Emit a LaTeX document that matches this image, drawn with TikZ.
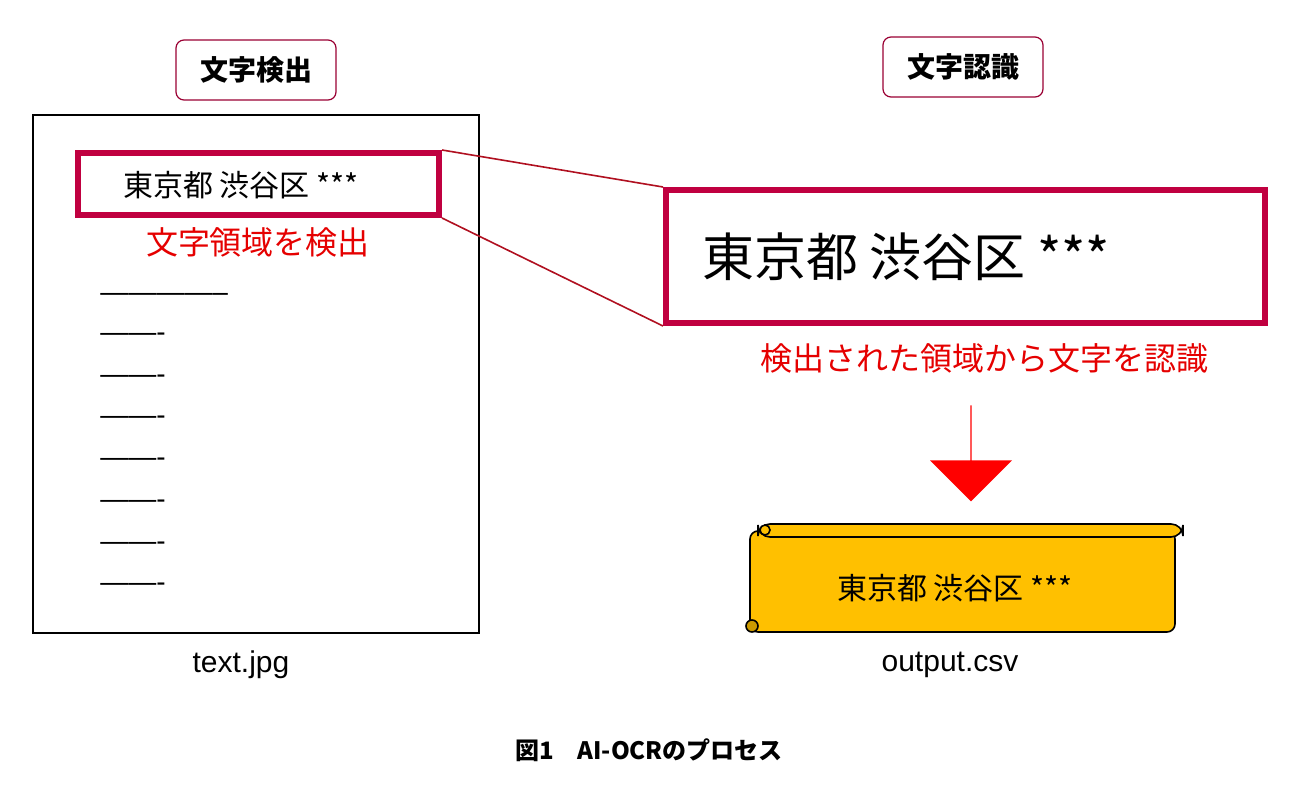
\documentclass[tikz,border=0pt]{standalone}
\usepackage{fontspec}
\setmainfont{Liberation Sans}
\newfontfamily\jp{Noto Sans CJK JP}
\usetikzlibrary{shapes.arrows}
\definecolor{boxred}{HTML}{C00040}
\definecolor{linered}{HTML}{B01020}
\definecolor{scrollgold}{HTML}{FFC000}
\begin{document}
\begin{tikzpicture}[x=0.5pt,y=-0.5pt,
        headbox/.style={
            draw=boxred!80!black, rounded corners=4pt, line width=0.6pt,
            minimum width=80pt, minimum height=30pt, % heading tags
            font=\jp\bfseries\fontsize{14}{14}\selectfont
        },
        regionbox/.style={
            draw=boxred, line width=3pt, anchor=north west, inner sep=0pt
        },
        redlabel/.style={
            text=red!90!black, font=\jp\fontsize{16}{16}\selectfont
        },
        dashline/.style={
            anchor=west, font=\fontsize{14}{14}\selectfont, inner sep=0pt
        }
    ]
\useasboundingbox (0,0) rectangle (1298,788);

% Left side: document with detected region
\node[headbox] (detecthead) at (256,70) {文字検出};
\draw[line width=0.7pt] (33,115) rectangle (479,633);
\node[regionbox, minimum width=180.5pt, minimum height=31pt] (smallbox) at (75,150) {};
\node[font=\jp\fontsize{15}{15}\selectfont] (smalltext) at (241,185) {東京都 渋谷区 ***};
\node[redlabel] (detectlabel) at (258,242) {文字領域を検出};
\node[dashline] (dash0) at (100,297) {--------------};
\foreach \y [count=\i] in {337,379,420,462,504,546,587}
    \node[dashline] (dash\i) at (100,\y) {-------};
\node[font=\fontsize{15}{15}\selectfont] (jpgname) at (241,665) {text.jpg};

% Right side: recognised region
\node[headbox] (recoghead) at (963,67) {文字認識};
\node[regionbox, minimum width=299.5pt, minimum height=66.5pt] (bigbox) at (663,187) {};
\node[font=\jp\fontsize{26}{26}\selectfont, anchor=west] (bigtext) at (695,257) {東京都 渋谷区 ***};
\draw[linered, line width=0.8pt] (smallbox.north east) -- (bigbox.north west);
\draw[linered, line width=0.8pt] (smallbox.south east) -- (bigbox.south west);
\node[redlabel] (recoglabel) at (984,358) {検出された領域から文字を認識};
\node[single arrow, fill=red, draw=none, shape border rotate=270,
      minimum width=41pt, single arrow head extend=11pt, minimum height=48pt,
      inner sep=0pt] (downarrow) at (971,453) {};

% Scroll with the output
\draw[fill=scrollgold, line width=0.8pt, rounded corners=4pt] (750,531) rectangle (1175,632);
\draw[fill=scrollgold, line width=0.8pt, rounded corners=6pt] (758,524) rectangle (1183,537);
\draw[fill=scrollgold, line width=0.8pt] (765,530) circle (5);
\draw[fill=scrollgold!80!black, line width=0.8pt] (752,626) circle (6);
\node[font=\jp\fontsize{15}{15}\selectfont] (scrolltext) at (955,588) {東京都 渋谷区 ***};
\node[font=\fontsize{15}{15}\selectfont] (csvname) at (950,665) {output.csv};

% Caption
\node[font=\jp\bfseries\fontsize{12}{12}\selectfont] (caption) at (649,750) {図1\quad AI-OCRのプロセス};
\end{tikzpicture}
\end{document}
